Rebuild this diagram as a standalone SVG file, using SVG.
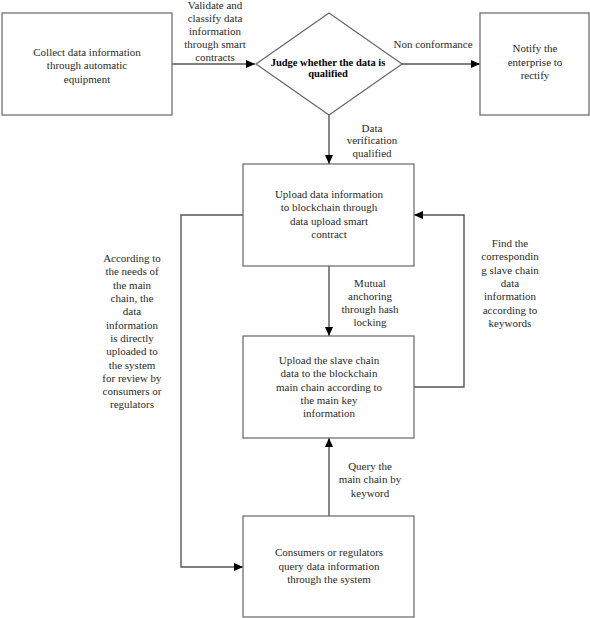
<svg xmlns="http://www.w3.org/2000/svg" width="590" height="618" viewBox="0 0 590 618">
<style>
.box{fill:#fff;stroke:#666;stroke-width:1.2}
.ln{fill:none;stroke:#555;stroke-width:1.4}
text{font-family:'Liberation Serif','Times New Roman',serif;font-size:11px;fill:#2a2a2a;text-anchor:middle}
.b{fill:#000;font-size:10.5px;font-weight:600}
</style>
<defs>
<marker id="ah" markerWidth="10" markerHeight="8" refX="9" refY="4" orient="auto" markerUnits="userSpaceOnUse">
<path d="M0,0 L9,4 L0,8 Z" fill="#000"/>
</marker>
</defs>
<rect width="590" height="618" fill="#fff"/>
<g id="connectors">
<path class="ln" d="M172,64 H255" marker-end="url(#ah)"/>
<path class="ln" d="M402,64 H480" marker-end="url(#ah)"/>
<path class="ln" d="M329,115 V164" marker-end="url(#ah)"/>
<path class="ln" d="M329,266 V336" marker-end="url(#ah)"/>
<path class="ln" d="M329,516 V438" marker-end="url(#ah)"/>
<path class="ln" d="M414,387 H464 V215 H414" marker-end="url(#ah)"/>
<path class="ln" d="M243,215 H181 V567 H243" marker-end="url(#ah)"/>
<text x="215" y="9">Validate and</text>
<text x="215" y="22">classify data</text>
<text x="215" y="35">information</text>
<text x="215" y="48">through smart</text>
<text x="215" y="61">contracts</text>
<text x="433" y="48">Non conformance</text>
<text x="372" y="132">Data</text>
<text x="372" y="144">verification</text>
<text x="372" y="157">qualified</text>
<text x="370" y="287">Mutual</text>
<text x="370" y="300">anchoring</text>
<text x="370" y="313">through hash</text>
<text x="370" y="326">locking</text>
<text x="370" y="470">Query the</text>
<text x="370" y="483">main chain by</text>
<text x="370" y="497">keyword</text>
<text x="510" y="247">Find the</text>
<text x="510" y="260">correspondin</text>
<text x="510" y="274">g slave chain</text>
<text x="510" y="287">data</text>
<text x="510" y="300">information</text>
<text x="510" y="314">according to</text>
<text x="510" y="327">keywords</text>
<text x="132" y="262">According to</text>
<text x="132" y="275">the needs of</text>
<text x="132" y="289">the main</text>
<text x="132" y="302">chain, the</text>
<text x="132" y="315">data</text>
<text x="132" y="329">information</text>
<text x="132" y="342">is directly</text>
<text x="132" y="355">uploaded to</text>
<text x="132" y="369">the system</text>
<text x="132" y="382">for review by</text>
<text x="132" y="395">consumers or</text>
<text x="132" y="408">regulators</text>
</g>
<g id="collect">
<rect class="box" x="2" y="13" width="170" height="102"/>
<text x="87" y="56">Collect data information</text>
<text x="87" y="69">through automatic</text>
<text x="87" y="83">equipment</text>
</g>
<g id="judge">
<polygon class="box" points="329,13 402,64 329,115 256,64"/>
<text class="b" x="328" y="66">Judge whether the data is</text>
<text class="b" x="328" y="77">qualified</text>
</g>
<g id="notify">
<rect class="box" x="480" y="13" width="109" height="102"/>
<text x="535" y="52">Notify the</text>
<text x="535" y="66">enterprise to</text>
<text x="535" y="79">rectify</text>
</g>
<g id="upload">
<rect class="box" x="243" y="164" width="171" height="102"/>
<text x="329" y="198">Upload data information</text>
<text x="329" y="211">to blockchain through</text>
<text x="329" y="225">data upload smart</text>
<text x="329" y="238">contract</text>
</g>
<g id="slave">
<rect class="box" x="243" y="336" width="171" height="102"/>
<text x="329" y="364">Upload the slave chain</text>
<text x="329" y="377">data to the blockchain</text>
<text x="329" y="391">main chain according to</text>
<text x="329" y="404">the main key</text>
<text x="329" y="417">information</text>
</g>
<g id="consumers">
<rect class="box" x="243" y="516" width="171" height="101"/>
<text x="329" y="556">Consumers or regulators</text>
<text x="329" y="570">query data information</text>
<text x="329" y="583">through the system</text>
</g>
</svg>
